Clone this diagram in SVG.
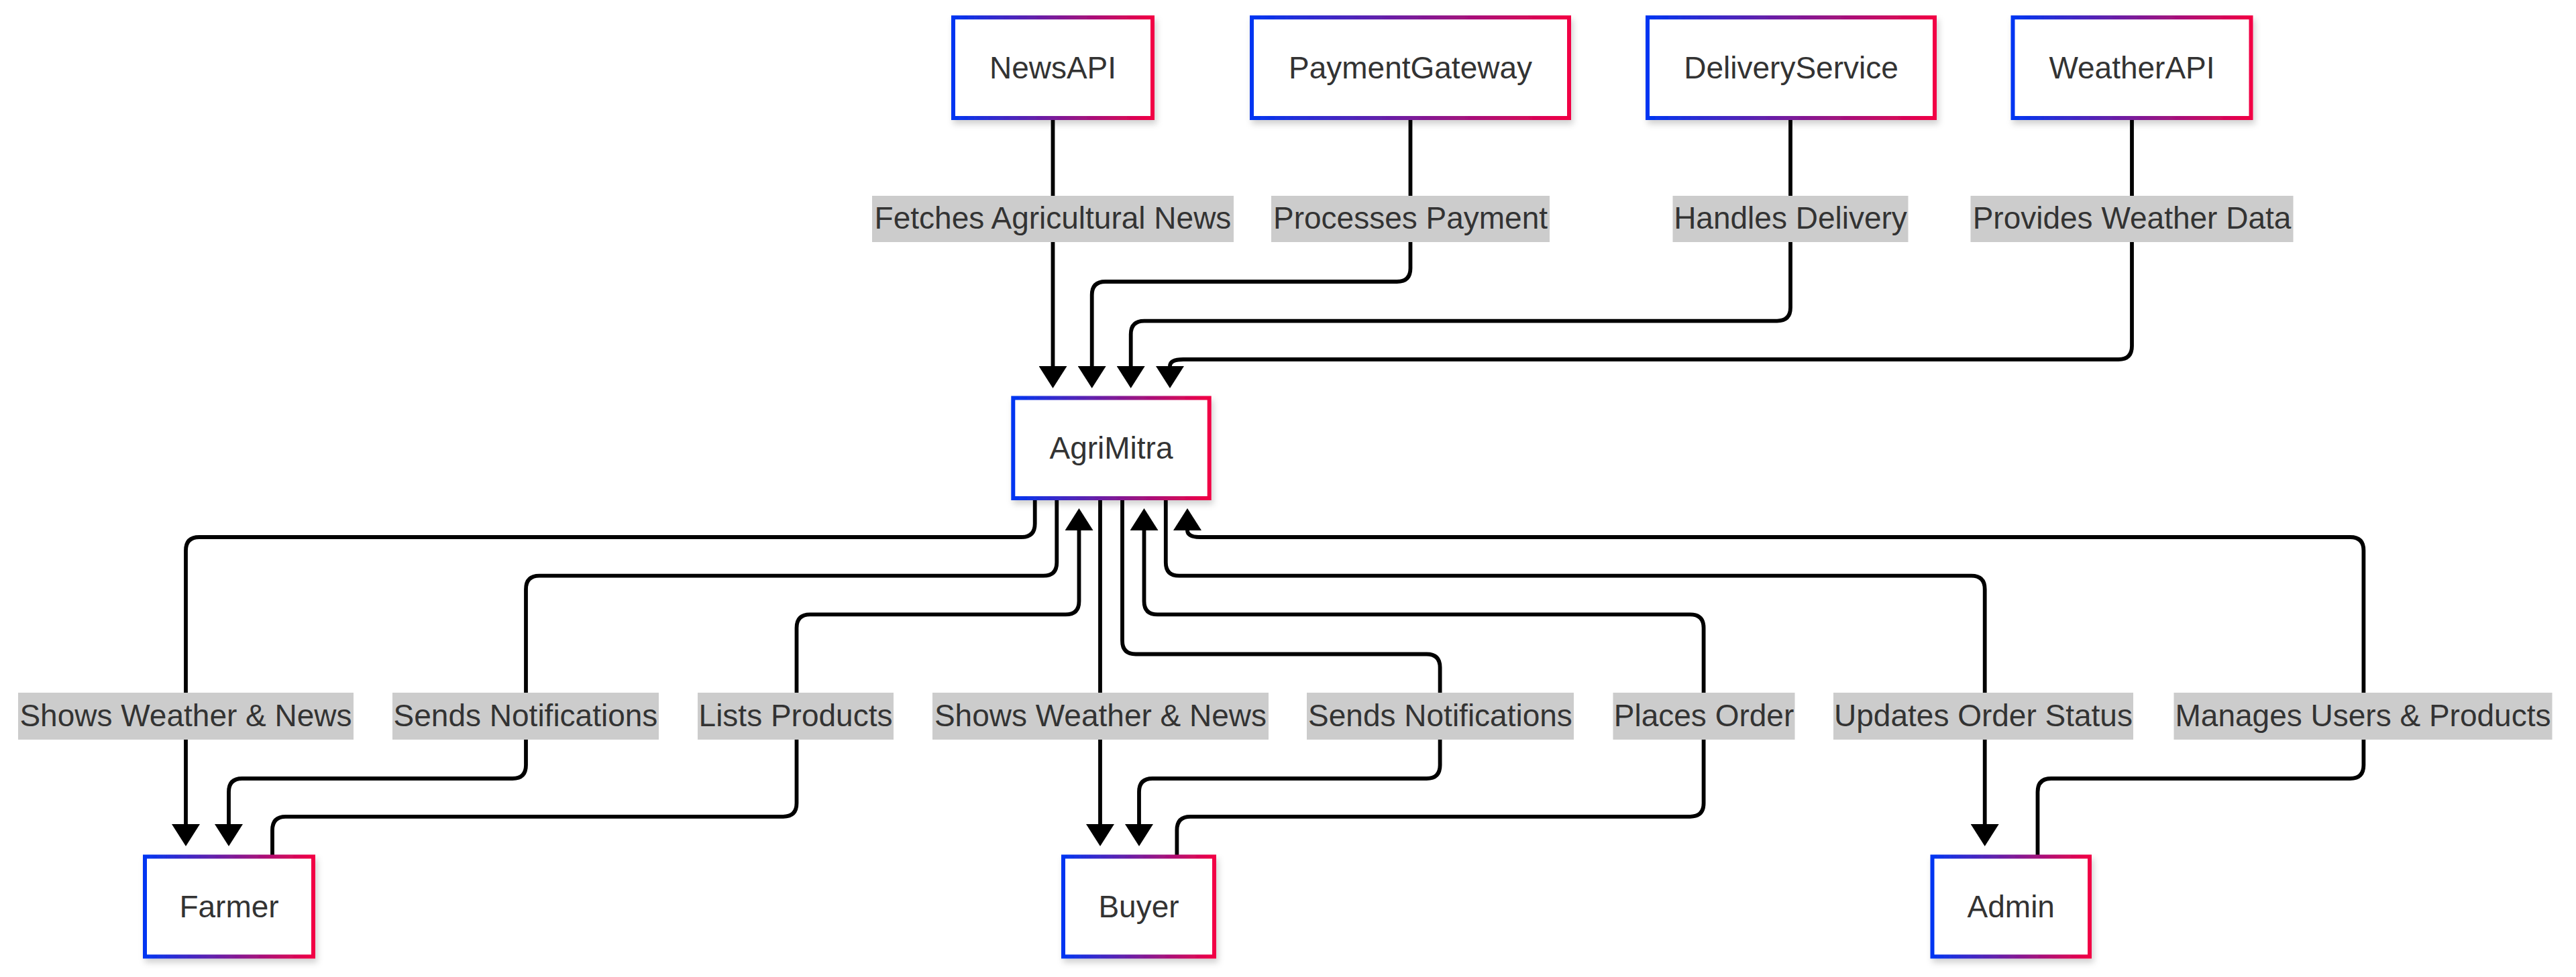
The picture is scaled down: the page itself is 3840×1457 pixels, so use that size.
<svg xmlns="http://www.w3.org/2000/svg" width="3840" height="1457" viewBox="0 0 3840 1457">
<defs>
<linearGradient id="grad" x1="0" y1="0" x2="1" y2="0">
<stop offset="0" stop-color="#0036f2"/>
<stop offset="1" stop-color="#f20044"/>
</linearGradient>
<filter id="shadow" x="-20%" y="-20%" width="140%" height="150%">
<feDropShadow dx="3" dy="6" stdDeviation="5" flood-color="#000" flood-opacity="0.18"/>
</filter>
<marker id="arrow" viewBox="0 0 33 42" refX="0" refY="21" markerWidth="33" markerHeight="42" markerUnits="userSpaceOnUse" orient="auto">
<path d="M0,0 L33,21 L0,42 z" fill="#000"/>
</marker>
</defs>
<style>
.node rect{fill:#fff;stroke:url(#grad);stroke-width:6;filter:url(#shadow)}
.node text{font-family:"Liberation Sans",Arial,sans-serif;font-size:46px;fill:#333;text-anchor:middle}
.edge{fill:none;stroke:#000;stroke-width:5.8;marker-end:url(#arrow)}
.lbl rect{fill:#cccccc}
.lbl text{font-family:"Liberation Sans",Arial,sans-serif;font-size:46px;fill:#333;text-anchor:middle}
</style>
<rect width="3840" height="1457" fill="#fff"/>
<g id="connectors">
<path class="edge" d="M1569.5,179 L1569.5,546"/>
<path class="edge" d="M2102.5,179 L2102.5,400 Q2102.5,420 2082.5,420 L1647.7,420 Q1627.7,420 1627.7,440 L1627.7,546"/>
<path class="edge" d="M2669,179 L2669,458.6 Q2669,478.6 2649,478.6 L1705.7,478.6 Q1685.7,478.6 1685.7,498.6 L1685.7,546"/>
<path class="edge" d="M3178,179 L3178,516 Q3178,536 3158,536 L1764,536 Q1744,536 1744,546"/>
<path class="edge" d="M1542.7,746 L1542.7,781 Q1542.7,801 1522.7,801 L297,801 Q277,801 277,821 L277,1229"/>
<path class="edge" d="M1575.3,746 L1575.3,838.7 Q1575.3,858.7 1555.3,858.7 L804,858.7 Q784,858.7 784,878.7 L784,1141 Q784,1161 764,1161 L361,1161 Q341,1161 341,1181 L341,1229"/>
<path class="edge" d="M406,1275 L406,1237.8 Q406,1217.8 426,1217.8 L1167.5,1217.8 Q1187.5,1217.8 1187.5,1197.8 L1187.5,936.4 Q1187.5,916.4 1207.5,916.4 L1588.5,916.4 Q1608.5,916.4 1608.5,896.4 L1608.5,791"/>
<path class="edge" d="M1640,746 L1640,1229"/>
<path class="edge" d="M1673,746 L1673,955.5 Q1673,975.5 1693,975.5 L2126.6,975.5 Q2146.6,975.5 2146.6,995.5 L2146.6,1141 Q2146.6,1161 2126.6,1161 L1718,1161 Q1698,1161 1698,1181 L1698,1229"/>
<path class="edge" d="M1754.4,1275 L1754.4,1237.8 Q1754.4,1217.8 1774.4,1217.8 L2519.6,1217.8 Q2539.6,1217.8 2539.6,1197.8 L2539.6,936.4 Q2539.6,916.4 2519.6,916.4 L1725.5,916.4 Q1705.5,916.4 1705.5,896.4 L1705.5,791"/>
<path class="edge" d="M1737.8,746 L1737.8,838.7 Q1737.8,858.7 1757.8,858.7 L2938.7,858.7 Q2958.7,858.7 2958.7,878.7 L2958.7,1229"/>
<path class="edge" d="M3037.5,1275 L3037.5,1181 Q3037.5,1161 3057.5,1161 L3503.4,1161 Q3523.4,1161 3523.4,1141 L3523.4,821 Q3523.4,801 3503.4,801 L1790,801 Q1770,801 1770,791"/>
</g>
<g id="edge-labels">
<g class="lbl"><rect x="1300" y="292" width="539" height="69"/><text x="1569.5" y="341">Fetches Agricultural News</text></g>
<g class="lbl"><rect x="1895" y="292" width="415" height="69"/><text x="2102.5" y="341">Processes Payment</text></g>
<g class="lbl"><rect x="2493.5" y="292" width="351" height="69"/><text x="2669" y="341">Handles Delivery</text></g>
<g class="lbl"><rect x="2937.5" y="292" width="481" height="69"/><text x="3178" y="341">Provides Weather Data</text></g>
<g class="lbl"><rect x="27" y="1033" width="500" height="70"/><text x="277" y="1082.5">Shows Weather &amp; News</text></g>
<g class="lbl"><rect x="585" y="1033" width="397" height="70"/><text x="783.5" y="1082.5">Sends Notifications</text></g>
<g class="lbl"><rect x="1040" y="1033" width="292" height="70"/><text x="1186" y="1082.5">Lists Products</text></g>
<g class="lbl"><rect x="1390" y="1033" width="501" height="70"/><text x="1640.5" y="1082.5">Shows Weather &amp; News</text></g>
<g class="lbl"><rect x="1948" y="1033" width="398" height="70"/><text x="2147" y="1082.5">Sends Notifications</text></g>
<g class="lbl"><rect x="2404.5" y="1033" width="271" height="70"/><text x="2540" y="1082.5">Places Order</text></g>
<g class="lbl"><rect x="2733" y="1033" width="447" height="70"/><text x="2956.5" y="1082.5">Updates Order Status</text></g>
<g class="lbl"><rect x="3240.5" y="1033" width="564" height="70"/><text x="3522.5" y="1082.5">Manages Users &amp; Products</text></g>
</g>
<g id="NewsAPI" class="node"><rect x="1421" y="26" width="297" height="150"/><text x="1569.5" y="116.5">NewsAPI</text></g>
<g id="PaymentGateway" class="node"><rect x="1866" y="26" width="473" height="150"/><text x="2102.5" y="116.5">PaymentGateway</text></g>
<g id="DeliveryService" class="node"><rect x="2456" y="26" width="428" height="150"/><text x="2670" y="116.5">DeliveryService</text></g>
<g id="WeatherAPI" class="node"><rect x="3000.5" y="26" width="355" height="150"/><text x="3178" y="116.5">WeatherAPI</text></g>
<g id="AgriMitra" class="node"><rect x="1510.3" y="593.5" width="292.4" height="149.5"/><text x="1656.5" y="683.5">AgriMitra</text></g>
<g id="Farmer" class="node"><rect x="216" y="1277.5" width="251" height="149"/><text x="341.5" y="1367.5">Farmer</text></g>
<g id="Buyer" class="node"><rect x="1585" y="1277.5" width="225" height="149"/><text x="1697.5" y="1367.5">Buyer</text></g>
<g id="Admin" class="node"><rect x="2880.5" y="1277.5" width="234.5" height="149"/><text x="2997.75" y="1367.5">Admin</text></g>
</svg>
